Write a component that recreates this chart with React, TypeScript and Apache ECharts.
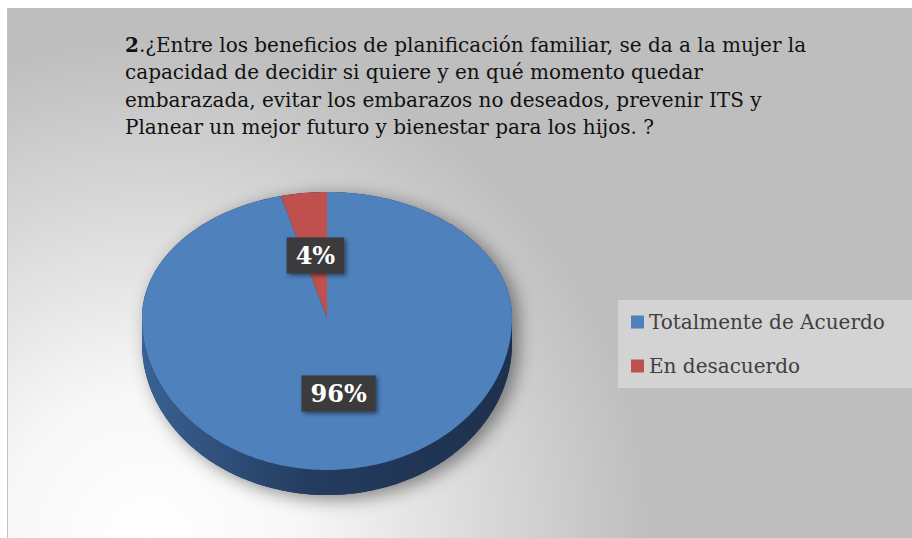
import React, { useEffect, useRef } from 'react';
import * as echarts from 'echarts';

const titleLines = [
  '.¿Entre los beneficios de planificación familiar, se da a la mujer la',
  'capacidad de decidir si quiere y en qué momento quedar',
  'embarazada, evitar los embarazos no deseados, prevenir ITS y',
  'Planear un mejor futuro y bienestar para los hijos. ?',
];
const titleNumber = '2';
const categories = ['Totalmente de Acuerdo', 'En desacuerdo'];
const values = [96, 4];
const percentLabels = ['96%', '4%'];
const sliceColors = ['#4f81bd', '#c0504d'];
const wallShades = [
  ['#3a6194', '#243c60', '#1d304d'],
  ['#96403d', '#6e2e2c', '#5a2624'],
];

// geometry of the tilted pie (pixels)
const CX = 327;
const CY = 318;
const RX = 185;
const RY_BACK = 126;
const RY_FRONT = 152;
const DEPTH = 25;
const SERIF = '"DejaVu Serif", serif';

function pt(phiDeg: number, dy: number, r = 1): number[] {
  const p = (phiDeg * Math.PI) / 180;
  const s = Math.sin(p);
  const c = Math.cos(p);
  const ry = c > 0 ? RY_BACK : RY_FRONT;
  return [CX + RX * r * s, CY - ry * r * c + dy];
}
function arc(a1: number, a2: number, dy: number): number[][] {
  const pts: number[][] = [];
  const n = Math.max(2, Math.ceil(Math.abs(a2 - a1)));
  for (let i = 0; i <= n; i++) pts.push(pt(a1 + ((a2 - a1) * i) / n, dy));
  return pts;
}

export default function App() {
  const ref = useRef<HTMLDivElement>(null);
  useEffect(() => {
    if (!ref.current) return;
    const chart = echarts.init(ref.current, null, { renderer: 'svg' });
    const total = values.reduce((a, b) => a + b, 0);
    const starts: number[] = [];
    let acc = 0;
    values.forEach((v) => {
      starts.push((acc / total) * 360);
      acc += v;
    });

    const renderItem = (params: any, api: any) => {
      const i = params.seriesIndex;
      const v = api.value(0);
      const a1 = starts[i];
      const a2 = a1 + (v / total) * 360;
      const color = sliceColors[i];
      const shades = wallShades[i];
      const children: any[] = [];
      if (i === 0) {
        const sil = arc(-90, 90, 0).concat(arc(90, 270, DEPTH));
        children.push({
          type: 'polygon',
          shape: { points: sil },
          style: {
            fill: '#1d304d',
            shadowBlur: 18,
            shadowColor: 'rgba(0,0,0,0.45)',
            shadowOffsetX: 6,
            shadowOffsetY: 4,
          },
          z2: 1,
        });
      }
      const w1 = Math.max(a1, 90);
      const w2 = Math.min(a2, 270);
      if (w2 > w1) {
        children.push({
          type: 'polygon',
          shape: { points: arc(w1, w2, 0).concat(arc(w2, w1, DEPTH)) },
          style: {
            fill: new echarts.graphic.LinearGradient(CX - RX, 0, CX + RX, 0, [
              { offset: 0, color: shades[0] },
              { offset: 0.45, color: shades[1] },
              { offset: 1, color: shades[2] },
            ], true),
          },
          z2: 2,
        });
      }
      children.push({
        type: 'polygon',
        shape: { points: [[CX, CY]].concat(arc(a1, a2, 0)) },
        style: { fill: color },
        z2: 3,
      });
      const mid = (a1 + a2) / 2;
      const lp = pt(mid, 0, 0.5);
      children.push({
        type: 'text',
        x: lp[0],
        y: lp[1],
        style: {
          text: percentLabels[i],
          fill: '#ffffff',
          fontFamily: SERIF,
          fontWeight: 'bold',
          fontSize: 24,
          align: 'center',
          verticalAlign: 'middle',
          backgroundColor: '#3a3a3a',
          padding: [6, 9, 6, 9],
          shadowBlur: 4,
          shadowColor: 'rgba(0,0,0,0.5)',
          shadowOffsetX: 2,
          shadowOffsetY: 2,
        },
        z2: 100,
      });
      return { type: 'group', children };
    };

    chart.setOption({
      animation: false,
      backgroundColor: '#ffffff',
      graphic: [
        {
          type: 'rect',
          z: -10,
          shape: { x: 7, y: 8, width: 905, height: 530 },
          style: {
            fill: {
              type: 'radial',
              x: 150,
              y: 540,
              r: 500,
              global: true,
              colorStops: [
                { offset: 0, color: '#ffffff' },
                { offset: 0.3, color: '#f7f7f7' },
                { offset: 1, color: '#bebebe' },
              ],
            },
          },
        },
        {
          type: 'line',
          z: -9,
          shape: { x1: 7.5, y1: 8, x2: 7.5, y2: 538 },
          style: { stroke: '#c4c4c4', lineWidth: 1 },
        },
      ],
      title: {
        left: 125,
        top: 31,
        padding: 0,
        text: '{b|' + titleNumber + '}' + titleLines.join('\n'),
        textStyle: {
          fontFamily: SERIF,
          fontSize: 20,
          fontWeight: 'normal',
          color: '#111111',
          lineHeight: 27.5,
          rich: {
            b: {
              fontFamily: SERIF,
              fontSize: 20,
              fontWeight: 'bold',
              color: '#111111',
              lineHeight: 27.5,
            },
          },
        },
      },
      legend: {
        orient: 'vertical',
        left: 618,
        top: 300,
        padding: [10, 30, 10, 13],
        itemGap: 20,
        itemWidth: 13,
        itemHeight: 13,
        icon: 'rect',
        backgroundColor: '#d3d3d3',
        data: categories,
        textStyle: {
          fontFamily: SERIF,
          fontSize: 20,
          color: '#404040',
          lineHeight: 24,
        },
      },
      series: categories.map((name, i) => ({
        type: 'custom',
        name,
        coordinateSystem: 'none',
        itemStyle: { color: sliceColors[i] },
        data: [[values[i]]],
        renderItem,
      })),
    });
    return () => chart.dispose();
  }, []);
  return (
    <div
      ref={ref}
      style={{ position: 'absolute', left: 0, top: 0, width: 912, height: 538 }}
    />
  );
}
